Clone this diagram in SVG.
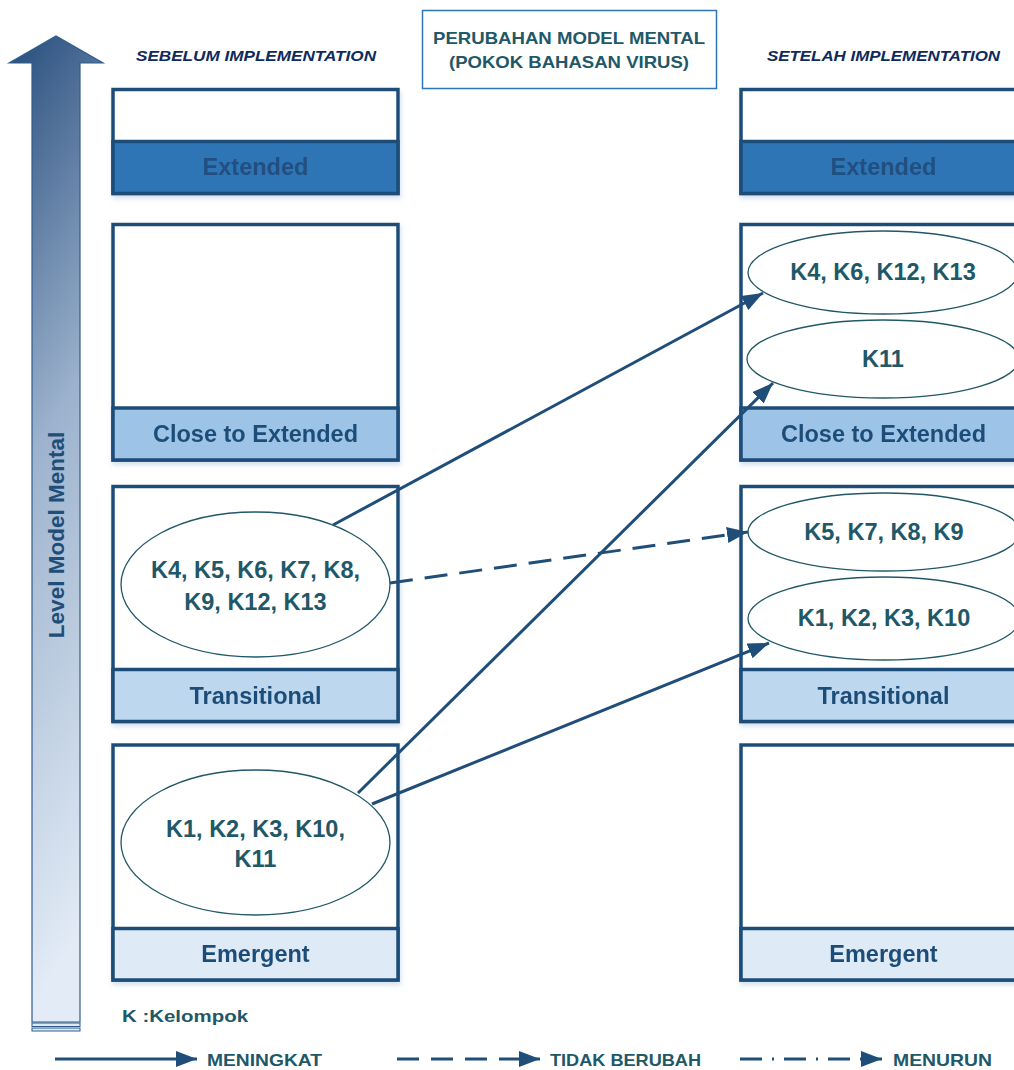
<svg xmlns="http://www.w3.org/2000/svg" width="1014" height="1070" viewBox="0 0 1014 1070">
  <style>
    .box { fill: #ffffff; stroke: #1F4E79; stroke-width: 3.5; }
    .lbl { font-family: "Liberation Sans", Arial, sans-serif; font-weight: bold; font-size: 23.5px; fill: #1F4E79; text-anchor: middle; }
    .ell { fill: #ffffff; stroke: #215868; stroke-width: 1.3; }
    .et { font-family: "Liberation Sans", Arial, sans-serif; font-weight: bold; font-size: 23.5px; fill: #215868; text-anchor: middle; }
    .hdr { font-family: "Liberation Sans", Arial, sans-serif; font-weight: bold; font-style: italic; font-size: 15.5px; fill: #0F2A5C; }
    .ttl { font-family: "Liberation Sans", Arial, sans-serif; font-weight: bold; font-size: 16.5px; fill: #215868; text-anchor: middle; }
    .leg { font-family: "Liberation Sans", Arial, sans-serif; font-weight: bold; font-size: 16.5px; fill: #215868; }
    .con { fill: none; stroke: #1F4E79; stroke-width: 3; }
    .sh { filter: url(#shadow); }
  </style>
  <defs>
    <marker id="ah" markerUnits="userSpaceOnUse" markerWidth="23" markerHeight="17" refX="21" refY="8" orient="auto">
      <path d="M0,0 L21,8 L0,16 Z" fill="#1F4E79" stroke="none"/>
    </marker>
    <linearGradient id="shaft" x1="0" y1="0" x2="0.15" y2="1">
      <stop offset="0" stop-color="#264c7c"/>
      <stop offset="0.45" stop-color="#9cb2cd"/>
      <stop offset="1" stop-color="#e2ebf6"/>
    </linearGradient>
    <filter id="shadow" x="-5%" y="-5%" width="112%" height="115%">
      <feDropShadow dx="1" dy="3" stdDeviation="2.5" flood-color="#9db8d6" flood-opacity="0.45"/>
    </filter>
  </defs>

  <!-- Vertical level arrow -->
  <g id="level-arrow">
    <path d="M9,63 L56,36 L103,63 L80,63 L80,1022 L32,1022 L32,63 Z" fill="url(#shaft)" stroke="#2f5d8c" stroke-width="1.2"/>
    <rect x="32" y="1023" width="48" height="3.5" fill="#dfe9f5" stroke="#2f5d8c" stroke-width="1"/>
    <rect x="32" y="1028" width="48" height="3" fill="#dfe9f5" stroke="#2f5d8c" stroke-width="1"/>
    <text class="lbl" transform="translate(64,535) rotate(-90)" style="font-size:22.5px">Level Model Mental</text>
  </g>

  <!-- Headers -->
  <g id="headers">
    <text class="hdr" x="136" y="61" textLength="240" lengthAdjust="spacingAndGlyphs">SEBELUM IMPLEMENTATION</text>
    <text class="hdr" x="767" y="61" textLength="233" lengthAdjust="spacingAndGlyphs">SETELAH IMPLEMENTATION</text>
  </g>
  <g id="title">
    <rect x="422.5" y="10.5" width="294" height="78" fill="#ffffff" stroke="#2E75B6" stroke-width="1.5"/>
    <text class="ttl" x="569" y="44" textLength="272" lengthAdjust="spacingAndGlyphs">PERUBAHAN MODEL MENTAL</text>
    <text class="ttl" x="569" y="68" textLength="240" lengthAdjust="spacingAndGlyphs">(POKOK BAHASAN VIRUS)</text>
  </g>

  <!-- Left column -->
  <g id="L-extended" class="sh">
    <rect class="box" x="113" y="89.5" width="285" height="104"/>
    <rect x="113" y="141.5" width="285" height="52" fill="#2E74B5" stroke="#1F4E79" stroke-width="3.5"/>
    <text class="lbl" x="255.5" y="175" style="fill:#214f80">Extended</text>
  </g>
  <g id="L-close" class="sh">
    <rect class="box" x="113" y="224.5" width="285" height="235.5"/>
    <rect x="113" y="408" width="285" height="52" fill="#9DC3E6" stroke="#1F4E79" stroke-width="3.5"/>
    <text class="lbl" x="255.5" y="442">Close to Extended</text>
  </g>
  <g id="L-transitional" class="sh">
    <rect class="box" x="113" y="486.5" width="285" height="235"/>
    <rect x="113" y="669.5" width="285" height="52" fill="#BDD7EE" stroke="#1F4E79" stroke-width="3.5"/>
    <text class="lbl" x="255.5" y="704">Transitional</text>
  </g>
  <g id="L-emergent" class="sh">
    <rect class="box" x="113" y="745" width="285" height="235"/>
    <rect x="113" y="928.5" width="285" height="51.5" fill="#DEEBF7" stroke="#1F4E79" stroke-width="3.5"/>
    <text class="lbl" x="255.5" y="962">Emergent</text>
  </g>

  <!-- Right column -->
  <g id="R-extended" class="sh">
    <rect class="box" x="741" y="89.5" width="285" height="104"/>
    <rect x="741" y="141.5" width="285" height="52" fill="#2E74B5" stroke="#1F4E79" stroke-width="3.5"/>
    <text class="lbl" x="883.5" y="175" style="fill:#214f80">Extended</text>
  </g>
  <g id="R-close" class="sh">
    <rect class="box" x="741" y="224.5" width="285" height="235.5"/>
    <rect x="741" y="408" width="285" height="52" fill="#9DC3E6" stroke="#1F4E79" stroke-width="3.5"/>
    <text class="lbl" x="883.5" y="442">Close to Extended</text>
  </g>
  <g id="R-transitional" class="sh">
    <rect class="box" x="741" y="486.5" width="285" height="235"/>
    <rect x="741" y="669.5" width="285" height="52" fill="#BDD7EE" stroke="#1F4E79" stroke-width="3.5"/>
    <text class="lbl" x="883.5" y="704">Transitional</text>
  </g>
  <g id="R-emergent" class="sh">
    <rect class="box" x="741" y="745" width="285" height="235"/>
    <rect x="741" y="928.5" width="285" height="51.5" fill="#DEEBF7" stroke="#1F4E79" stroke-width="3.5"/>
    <text class="lbl" x="883.5" y="962">Emergent</text>
  </g>

  <!-- Group ellipses -->
  <g id="E-left-transitional">
    <ellipse class="ell" cx="255.5" cy="584.5" rx="134.5" ry="72.5"/>
    <text class="et" x="255.5" y="578">K4, K5, K6, K7, K8,</text>
    <text class="et" x="255.5" y="610">K9, K12, K13</text>
  </g>
  <g id="E-left-emergent">
    <ellipse class="ell" cx="255.5" cy="842.5" rx="134.5" ry="72.5"/>
    <text class="et" x="255.5" y="837">K1, K2, K3, K10,</text>
    <text class="et" x="255.5" y="867">K11</text>
  </g>
  <g id="E-right-A">
    <ellipse class="ell" cx="883" cy="272.5" rx="135" ry="41.5"/>
    <text class="et" x="883" y="280">K4, K6, K12, K13</text>
  </g>
  <g id="E-right-B">
    <ellipse class="ell" cx="883" cy="359" rx="136" ry="39"/>
    <text class="et" x="883" y="367">K11</text>
  </g>
  <g id="E-right-C">
    <ellipse class="ell" cx="884" cy="532" rx="136" ry="39"/>
    <text class="et" x="884" y="540">K5, K7, K8, K9</text>
  </g>
  <g id="E-right-D">
    <ellipse class="ell" cx="884" cy="618.5" rx="136" ry="41.5"/>
    <text class="et" x="884" y="626">K1, K2, K3, K10</text>
  </g>

  <!-- Connectors -->
  <g id="connectors">
    <line class="con" x1="333" y1="525" x2="763" y2="293" marker-end="url(#ah)"/>
    <line class="con" x1="358" y1="793" x2="773" y2="383" marker-end="url(#ah)"/>
    <line class="con" x1="372" y1="804" x2="769" y2="643" marker-end="url(#ah)"/>
    <line class="con" x1="390" y1="583" x2="748" y2="532" stroke-dasharray="23 12" marker-end="url(#ah)"/>
  </g>

  <!-- Legend -->
  <g id="legend">
    <text class="leg" x="122" y="1022" textLength="126" lengthAdjust="spacingAndGlyphs">K :Kelompok</text>
    <line class="con" x1="55" y1="1059" x2="197" y2="1059" marker-end="url(#ah)"/>
    <text class="leg" x="207" y="1066" textLength="115" lengthAdjust="spacingAndGlyphs">MENINGKAT</text>
    <line class="con" x1="397" y1="1059" x2="540" y2="1059" stroke-dasharray="22 12" marker-end="url(#ah)"/>
    <text class="leg" x="550" y="1066" textLength="151" lengthAdjust="spacingAndGlyphs">TIDAK BERUBAH</text>
    <line class="con" x1="740" y1="1059" x2="882" y2="1059" stroke-dasharray="22 10 2 10" marker-end="url(#ah)"/>
    <text class="leg" x="893" y="1066" textLength="99" lengthAdjust="spacingAndGlyphs">MENURUN</text>
  </g>
</svg>
